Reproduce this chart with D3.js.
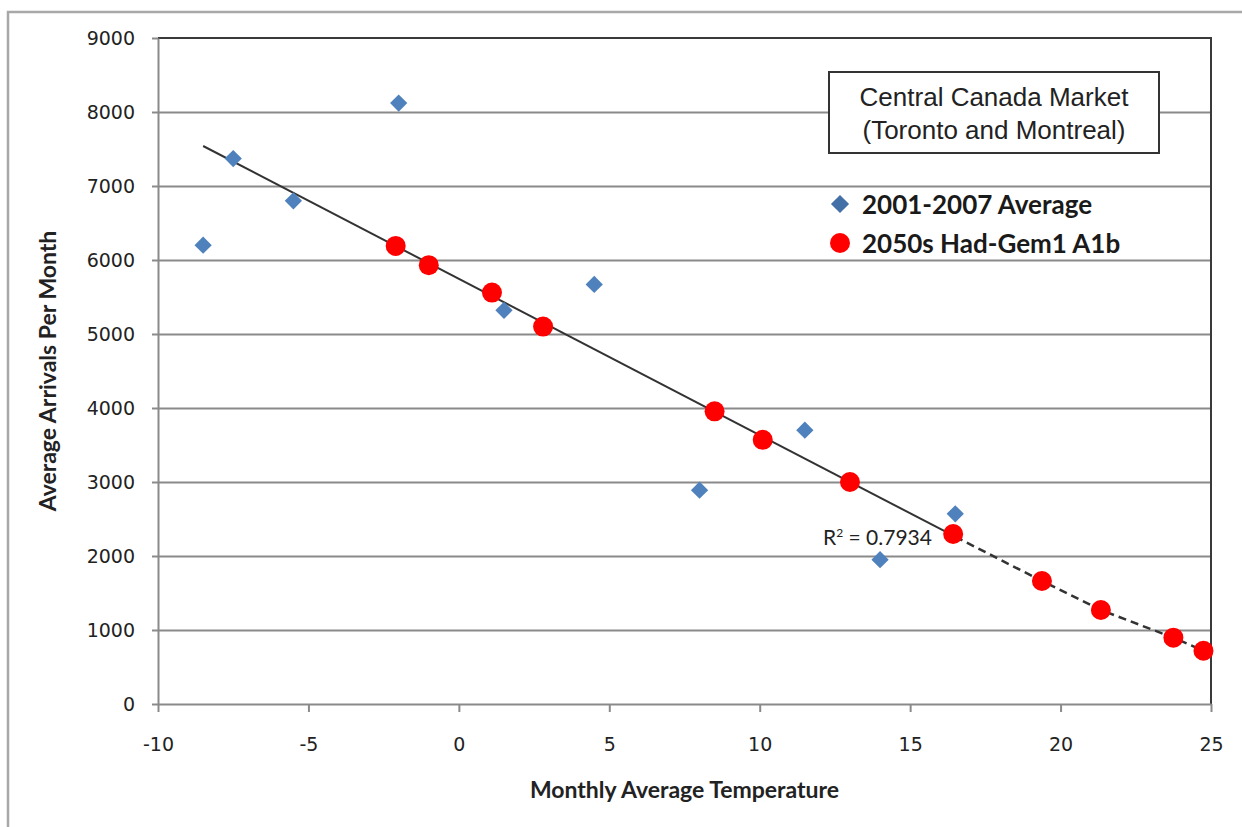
<!DOCTYPE html>
<html lang="en">
<head>
<meta charset="utf-8">
<title>Central Canada Market</title>
<script src="https://cdn.jsdelivr.net/npm/d3@7"></script>
<style>
  body { margin: 0; background: #fff; }
  .axis path, .axis line { fill: none; stroke: #8a8a8a; stroke-width: 2px; }
  .axis text { font-family: "DejaVu Sans", sans-serif; font-size: 19px; fill: #222; }
  .grid line { stroke: #8a8a8a; stroke-width: 2px; }
  .grid path { stroke-width: 0; }
  .title { font-family: Lato, sans-serif; font-weight: bold; font-size: 23px; fill: #222; }
</style>
</head>
<body>
<script>
// Data
var yTicks = [0, 1000, 2000, 3000, 4000, 5000, 6000, 7000, 8000, 9000];
var xTicks = [-10, -5, 0, 5, 10, 15, 20, 25];

// 2001-2007 average (blue diamonds)
var histTemp = [-8.5, -7.5, -5.5, -2, 1.5, 4.5, 8, 11.5, 14, 16.5];
var histArrivals = [6200, 7370, 6800, 8120, 5320, 5670, 2890, 3700, 1950, 2570];

// 2050s Had-Gem1 A1b (red circles)
var futTemp = [-2.1, -1, 1.1, 2.8, 8.5, 10.1, 13, 16.43, 19.38, 21.34, 23.75, 24.75];
var futArrivals = [6190, 5930, 5560, 5100, 3955, 3570, 3000, 2297, 1662, 1270, 896, 720];

var seriesNames = ["2001-2007 Average", "2050s Had-Gem1 A1b"];
var boxLines = ["Central Canada Market", "(Toronto and Montreal)"];
var xTitle = "Monthly Average Temperature";
var yTitle = "Average Arrivals Per Month";

// Layout
var w = 1242, h = 827;
var padL = 158, padR = 1211, padT = 38, padB = 704;

var svg = d3.select("body").append("svg")
  .attr("width", w)
  .attr("height", h);

// outer frame (runs off right and bottom edge)
svg.append("rect")
  .attr("x", 8).attr("y", 12)
  .attr("width", w).attr("height", h)
  .attr("fill", "none")
  .attr("stroke", "#a8a8a8")
  .attr("stroke-width", 2.5);

var x = d3.scaleLinear().domain([-10, 25]).range([padL, padR]);
var y = d3.scaleLinear().domain([0, 9000]).range([padB, padT]);

// gridlines
svg.append("g")
  .attr("class", "grid")
  .attr("transform", "translate(" + padL + ",0)")
  .call(d3.axisLeft(y).tickValues(yTicks.slice(1, -1))
    .tickSize(-(padR - padL)).tickFormat(""));

// top and right border of plot area
svg.append("path")
  .attr("d", "M" + padL + "," + y(9000) + "H" + padR + "V" + padB)
  .attr("fill", "none")
  .attr("stroke", "#3a3a3a")
  .attr("stroke-width", 2);

// axes
var xAxis = svg.append("g")
  .attr("class", "axis")
  .attr("transform", "translate(0," + padB + ")")
  .call(d3.axisBottom(x).tickValues(xTicks).tickSize(8).tickPadding(26)
    .tickSizeOuter(0).tickFormat(d3.format("d")));
xAxis.selectAll("text").text(function(d) { return d < 0 ? "-" + Math.abs(d) : d; });

svg.append("g")
  .attr("class", "axis")
  .attr("transform", "translate(" + padL + ",0)")
  .call(d3.axisLeft(y).tickValues(yTicks).tickSize(6).tickPadding(17)
    .tickSizeOuter(0).tickFormat(d3.format("d")));

// axis titles
svg.append("text")
  .attr("class", "title")
  .attr("x", (padL + padR) / 2)
  .attr("y", 798)
  .attr("text-anchor", "middle")
  .text(xTitle);

svg.append("text")
  .attr("class", "title")
  .attr("transform", "translate(56," + ((padT + padB) / 2) + ") rotate(-90)")
  .attr("text-anchor", "middle")
  .text(yTitle);

// regression on the 2001-2007 data
var n = histTemp.length;
var mx = d3.mean(histTemp), my = d3.mean(histArrivals);
var sxy = 0, sxx = 0;
for (var i = 0; i < n; i++) {
  sxy += (histTemp[i] - mx) * (histArrivals[i] - my);
  sxx += (histTemp[i] - mx) * (histTemp[i] - mx);
}
var slope = sxy / sxx;
var icpt = my - slope * mx;
var xMin = d3.min(histTemp), xMax = d3.max(histTemp);

var view = svg.append("g");

// solid trendline over observed range
view.append("line")
  .attr("x1", x(xMin)).attr("y1", y(slope * xMin + icpt))
  .attr("x2", x(xMax)).attr("y2", y(slope * xMax + icpt))
  .attr("stroke", "#333").attr("stroke-width", 2);

// dashed continuation through the projected points
var ext = [[xMax, slope * xMax + icpt]];
futTemp.forEach(function(t, i) { if (t > xMax) ext.push([t, futArrivals[i]]); });
view.append("path")
  .attr("d", d3.line().x(function(d) { return x(d[0]); }).y(function(d) { return y(d[1]); })(ext))
  .attr("fill", "none")
  .attr("stroke", "#333")
  .attr("stroke-width", 2.5)
  .attr("stroke-dasharray", "8,5");

// R squared label
svg.append("text")
  .attr("x", 823).attr("y", 545)
  .attr("font-family", "Lato, sans-serif")
  .attr("font-size", 21)
  .attr("fill", "#222")
  .html('R<tspan dy="-8" font-size="12">2</tspan><tspan dy="8"> = 0.7934</tspan>');

var diamond = d3.symbol().type(d3.symbolDiamond2).size(190);

// blue diamonds
view.selectAll(".hist")
  .data(histTemp)
  .enter().append("path")
  .attr("class", "hist")
  .attr("transform", function(d, i) { return "translate(" + x(d) + "," + y(histArrivals[i]) + ")"; })
  .attr("d", diamond)
  .attr("fill", "#4f81bd");

// red circles
view.selectAll(".fut")
  .data(futTemp)
  .enter().append("circle")
  .attr("class", "fut")
  .attr("cx", function(d) { return x(d); })
  .attr("cy", function(d, i) { return y(futArrivals[i]); })
  .attr("r", 10)
  .attr("fill", "#ff0000");

// title box
svg.append("rect")
  .attr("x", 829).attr("y", 72)
  .attr("width", 330).attr("height", 81)
  .attr("fill", "#fff")
  .attr("stroke", "#333")
  .attr("stroke-width", 2);

svg.selectAll(".boxline")
  .data(boxLines)
  .enter().append("text")
  .attr("class", "boxline")
  .attr("x", 994)
  .attr("y", function(d, i) { return 106 + i * 33; })
  .attr("text-anchor", "middle")
  .attr("font-family", "Liberation Sans, sans-serif")
  .attr("font-size", 26)
  .attr("fill", "#222")
  .text(function(d) { return d; });

// legend
var leg = svg.append("g").attr("transform", "translate(840,204)");
var items = leg.selectAll("g")
  .data(seriesNames)
  .enter().append("g")
  .attr("transform", function(d, i) { return "translate(0," + i * 39 + ")"; });

items.append("path")
  .attr("d", function(d, i) {
    return i === 0 ? d3.symbol().type(d3.symbolDiamond2).size(210)()
                   : d3.symbol().type(d3.symbolCircle).size(314)();
  })
  .attr("fill", function(d, i) { return i === 0 ? "#4470a8" : "#ff0000"; });

items.append("text")
  .attr("x", 22)
  .attr("y", 10)
  .attr("font-family", "Lato, sans-serif")
  .attr("font-weight", "bold")
  .attr("font-size", 26)
  .attr("fill", "#1a1a1a")
  .text(function(d) { return d; });
</script>
</body>
</html>
